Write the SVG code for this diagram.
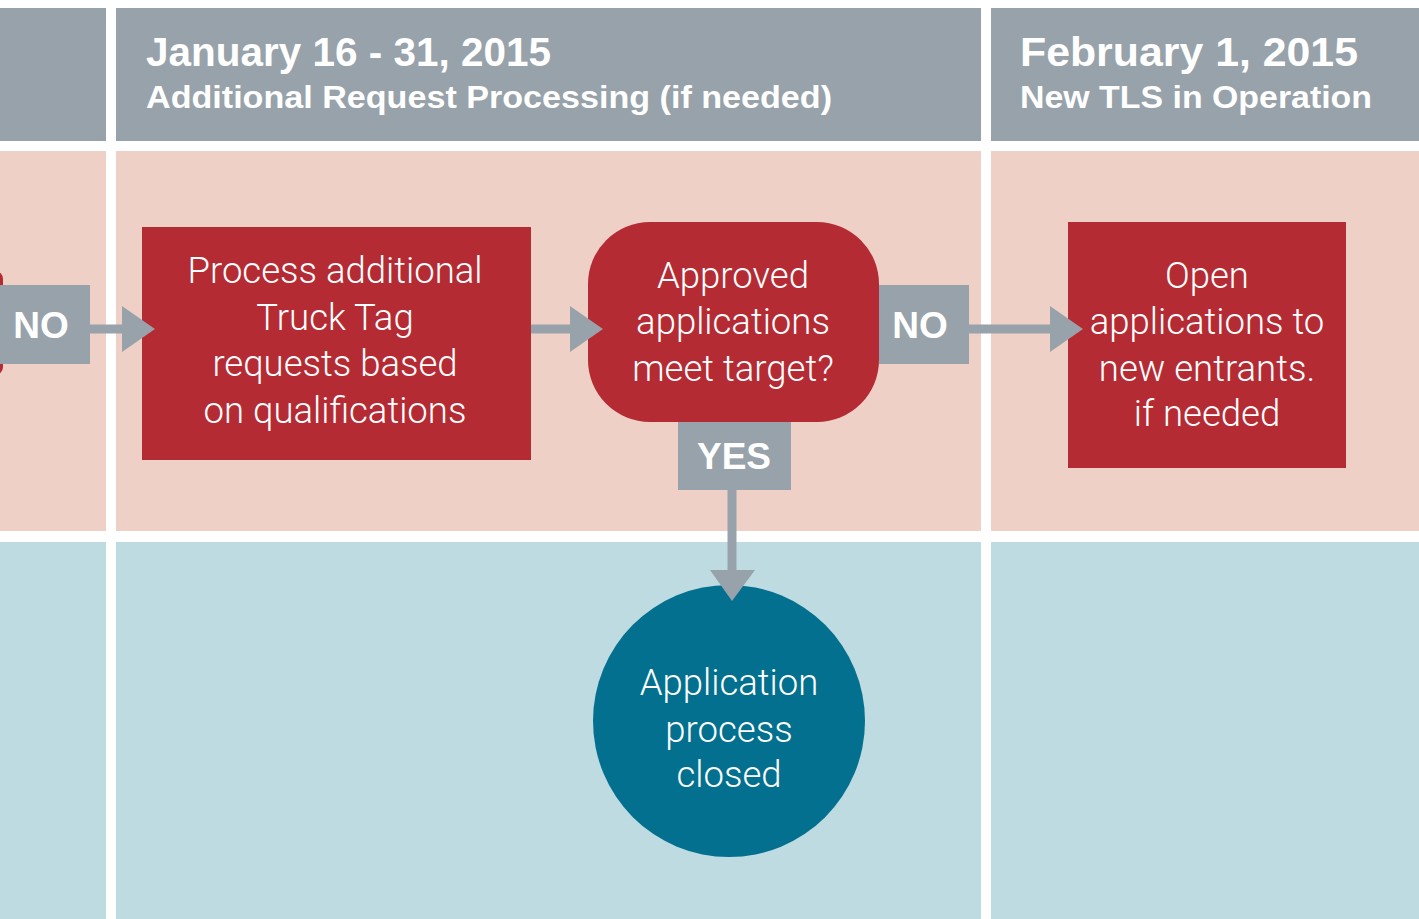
<svg xmlns="http://www.w3.org/2000/svg" width="1419" height="919" viewBox="0 0 1419 919">
<defs>
<style>
.hdr{fill:#97a2aa}
.pink{fill:#efd0c7}
.blue{fill:#bedbe2}
.red{fill:#b52b34}
.tag{fill:#97a2aa}
.teal{fill:#02708e}
.h1{font-family:"Liberation Sans",Arial,sans-serif;font-weight:bold;font-size:40px;fill:#fff}
.h2{font-family:"Liberation Sans",Arial,sans-serif;font-weight:bold;font-size:32px;fill:#fff}
.lbl{font-family:"Liberation Sans",Arial,sans-serif;font-weight:bold;font-size:37px;fill:#fff;text-anchor:middle}
.body{font-family:Roboto,"Liberation Sans",sans-serif;font-weight:300;font-size:36.5px;fill:#fff;text-anchor:middle}
.conn{stroke:#97a2aa;stroke-width:9;fill:none}
.head{fill:#97a2aa}
</style>
</defs>
<rect width="1419" height="919" fill="#fff"/>
<g id="lanes">
<rect class="hdr" x="0" y="8" width="106" height="133"/>
<rect class="hdr" x="116" y="8" width="865" height="133"/>
<rect class="hdr" x="991" y="8" width="428" height="133"/>
<rect class="pink" x="0" y="151" width="106" height="380"/>
<rect class="pink" x="116" y="151" width="865" height="380"/>
<rect class="pink" x="991" y="151" width="428" height="380"/>
<rect class="blue" x="0" y="542" width="106" height="377"/>
<rect class="blue" x="116" y="542" width="865" height="377"/>
<rect class="blue" x="991" y="542" width="428" height="377"/>
</g>
<g id="headers">
<text class="h1" x="146" y="66" textLength="405" lengthAdjust="spacingAndGlyphs">January 16 - 31, 2015</text>
<text class="h2" x="146" y="108" textLength="686" lengthAdjust="spacingAndGlyphs">Additional Request Processing (if needed)</text>
<text class="h1" x="1020" y="66" textLength="338" lengthAdjust="spacingAndGlyphs">February 1, 2015</text>
<text class="h2" x="1020" y="108" textLength="352" lengthAdjust="spacingAndGlyphs">New TLS in Operation</text>
</g>
<g id="prev-node"><rect class="red" x="-200" y="271" width="203" height="104" rx="8"/></g>
<g id="no-left">
<rect class="tag" x="0" y="285" width="90" height="79"/>
<text class="lbl" x="41" y="338">NO</text>
</g>
<g id="process">
<rect class="red" x="142" y="227" width="389" height="233"/>
<text class="body"><tspan x="335" y="283">Process additional</tspan><tspan x="335" y="330">Truck Tag</tspan><tspan x="335" y="376">requests based</tspan><tspan x="335" y="423">on qualifications</tspan></text>
</g>
<g id="decision">
<rect class="red" x="588" y="222" width="291" height="200" rx="62"/>
<text class="body"><tspan x="733" y="288">Approved</tspan><tspan x="733" y="334">applications</tspan><tspan x="733" y="381">meet target?</tspan></text>
</g>
<g id="no-right">
<rect class="tag" x="879" y="285" width="90" height="79"/>
<text class="lbl" x="920" y="338">NO</text>
</g>
<g id="yes">
<rect class="tag" x="678" y="422" width="113" height="68"/>
<text class="lbl" x="734" y="469">YES</text>
</g>
<g id="open">
<rect class="red" x="1068" y="222" width="278" height="246"/>
<text class="body"><tspan x="1207" y="288">Open</tspan><tspan x="1207" y="334">applications to</tspan><tspan x="1207" y="381">new entrants.</tspan><tspan x="1207" y="426">if needed</tspan></text>
</g>
<g id="closed">
<circle class="teal" cx="729" cy="721" r="136"/>
<text class="body"><tspan x="729" y="695">Application</tspan><tspan x="729" y="742">process</tspan><tspan x="729" y="787">closed</tspan></text>
</g>
<g id="connectors">
<line class="conn" x1="90" y1="329" x2="124" y2="329"/>
<polygon class="head" points="122,306 155,329 122,352"/>
<line class="conn" x1="531" y1="329" x2="572" y2="329"/>
<polygon class="head" points="570,306 603,329 570,352"/>
<line class="conn" x1="969" y1="329" x2="1052" y2="329"/>
<polygon class="head" points="1050,306 1083,329 1050,352"/>
<line class="conn" x1="732" y1="490" x2="732" y2="572"/>
<polygon class="head" points="710,570 755,570 732,601"/>
</g>
</svg>
